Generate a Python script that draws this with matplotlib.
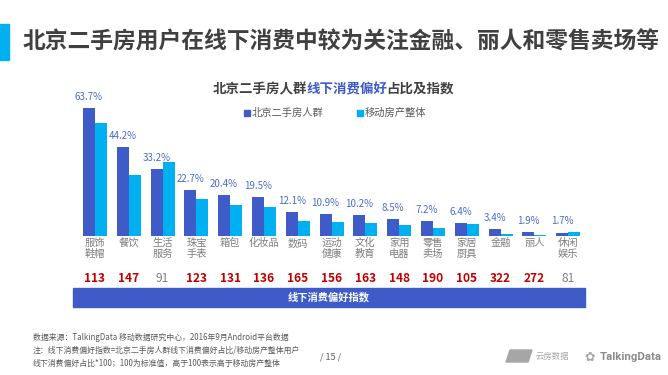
import matplotlib
matplotlib.use('Agg')
import matplotlib.pyplot as plt
import matplotlib.transforms as mtransforms
from matplotlib.patches import Rectangle, Polygon
import numpy as np

plt.rcParams['font.family'] = ['Noto Sans CJK SC', 'DejaVu Sans']

categories = ['服饰\n鞋帽', '餐饮', '生活\n服务', '珠宝\n手表', '箱包', '化妆品', '数码', '运动\n健康',
              '文化\n教育', '家用\n电器', '零售\n卖场', '家居\n厨具', '金融', '丽人', '休闲\n娱乐']
beijing = [63.7, 44.2, 33.2, 22.7, 20.4, 19.5, 12.1, 10.9, 10.2, 8.5, 7.2, 6.4, 3.4, 1.9, 1.7]
overall = [56.2, 30.1, 36.5, 18.5, 15.6, 14.3, 7.3, 7.0, 6.3, 5.7, 3.8, 6.1, 1.1, 0.7, 2.1]
index_vals = [113, 147, 91, 123, 131, 136, 165, 156, 163, 148, 190, 105, 322, 272, 81]

dark = '#3F5BC8'
light = '#00B0F0'
W, H = 668, 375

fig = plt.figure(figsize=(6.68, 3.75), dpi=100)

def fx(px):
    return px / W

def fy(py):
    return 1 - py / H

# title with accent bar
fig.patches.append(Rectangle((0, fy(60)), fx(9), (60 - 24) / H, transform=fig.transFigure,
                             color='#00B0F0', zorder=2))
fig.text(fx(23), fy(42), '北京二手房用户在线下消费中较为关注金融、丽人和零售卖场等',
         fontsize=16.4, fontweight='bold', color='#404040', ha='left', va='center')

# chart subtitle, middle part in blue
char_px = 13.0
xpos = 213
for part, col in [('北京二手房人群', '#404040'), ('线下消费偏好', '#3F5BC8'), ('占比及指数', '#404040')]:
    fig.text(fx(xpos), fy(89), part, fontsize=9.7, fontweight='bold', color=col, va='center')
    xpos += len(part) * char_px + 2

# legend
for x0, col, lab in [(244, dark, '北京二手房人群'), (357, light, '移动房产整体')]:
    fig.patches.append(Rectangle((fx(x0), fy(116)), fx(6), 6 / H, transform=fig.transFigure, color=col))
    fig.text(fx(x0 + 8), fy(113), lab, fontsize=7.4, color='#595959', va='center')

# bars
ax = fig.add_axes([fx(73), fy(236), fx(512), (236 - 95) / H])
x = np.arange(len(categories))
bw = 0.355
ax.bar(x - bw / 2, beijing, bw, color=dark)
ax.bar(x + bw / 2, overall, bw, color=light)
ax.set_xlim(-0.65, 14.5)
ax.set_ylim(0, 70)
ax.axis('off')

for xi, v in zip(x, beijing):
    ax.annotate(f'{v}%', (xi - bw / 2, v), xytext=(0, 8), textcoords='offset points',
                ha='center', va='center', fontsize=7, color='#4A6BD0')

tr = mtransforms.blended_transform_factory(ax.transData, fig.transFigure)
for xi, lab, idx in zip(x, categories, index_vals):
    ax.text(xi, fy(238), lab, transform=tr, ha='center', va='top', fontsize=7.4,
            color='#7F7F7F', linespacing=1.1)
    if idx > 100:
        ax.text(xi, fy(278), str(idx), transform=tr, ha='center', va='center', fontsize=8.6,
                fontweight='bold', color='#C00000')
    else:
        ax.text(xi, fy(278), str(idx), transform=tr, ha='center', va='center', fontsize=8.6,
                color='#7F7F7F')

# index band
fig.patches.append(Rectangle((fx(73), fy(307)), fx(512), 19 / H, transform=fig.transFigure, color=dark))
fig.text(fx(329), fy(297.5), '线下消费偏好指数', fontsize=7.4, fontweight='bold', color='white',
         ha='center', va='center')

# footer
notes = ['数据来源：TalkingData 移动数据研究中心，2016年9月Android平台数据',
         '注：线下消费偏好指数=北京二手房人群线下消费偏好占比/移动房产整体用户',
         '线下消费偏好占比*100；100为标准值，高于100表示高于移动房产整体']
for i, t in enumerate(notes):
    fig.text(fx(33), fy(337 + i * 13), t, fontsize=5.7, color='#595959', va='center')
fig.text(fx(320), fy(357), '/ 15 /', fontsize=6.5, color='#595959', va='center')

# logos (approximate)
fig.patches.append(Polygon([(fx(506), fy(362)), (fx(528), fy(362)), (fx(532), fy(350)), (fx(510), fy(350))],
                           closed=True, transform=fig.transFigure, color='#A6A6A6'))
fig.text(fx(536), fy(356), '云房数据', fontsize=6, color='#A6A6A6', va='center')
fig.text(fx(584), fy(357), '✿', fontsize=9, color='#A6A6A6', va='center', family=['DejaVu Sans'])
fig.text(fx(600), fy(357), 'TalkingData', fontsize=8.2, fontweight='bold', color='#8C8C8C',
         va='center', family=['Liberation Sans Narrow', 'Roboto', 'DejaVu Sans'])

fig.savefig('out.png', dpi=100)
